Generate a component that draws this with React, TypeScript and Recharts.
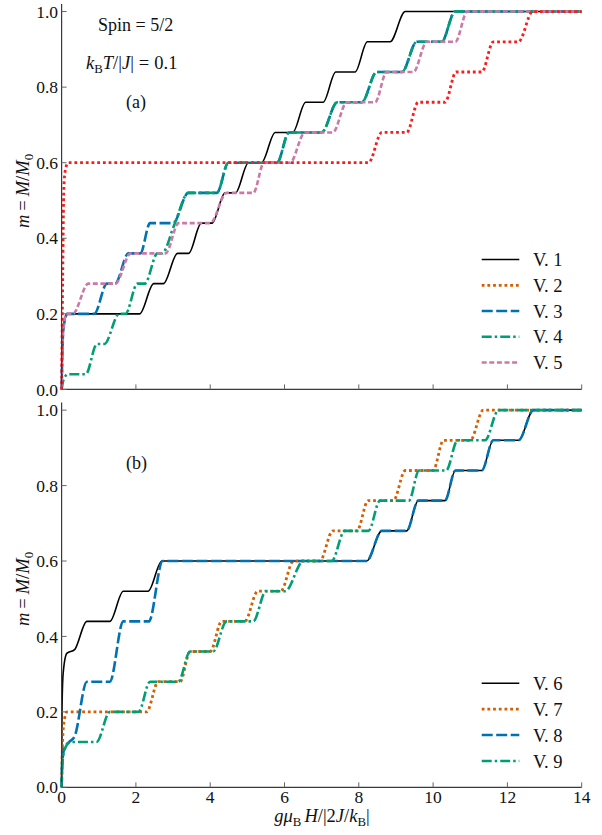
import React from "react";
import { LineChart, Line, XAxis, YAxis } from "recharts";

type Pt = [number, number];

const xTicks = [0, 2, 4, 6, 8, 10, 12, 14];
const xTickLabels = ["0", "2", "4", "6", "8", "10", "12", "14"];
const yTicks = [0, 0.2, 0.4, 0.6, 0.8, 1.0];
const yTickLabels = ["0.0", "0.2", "0.4", "0.6", "0.8", "1.0"];

// panel (a) as [field, m]
const v1: Pt[] = [[0, 0], [0.02, 0.1], [0.06, 0.17], [0.16, 0.2], [2.1, 0.2], [2.48, 0.28], [2.74, 0.28], [3.12, 0.36], [3.42, 0.36], [3.76, 0.44], [4.05, 0.44], [4.4, 0.52], [4.68, 0.52], [5.03, 0.6], [5.38, 0.6], [5.75, 0.68], [6.22, 0.68], [6.57, 0.76], [7.04, 0.76], [7.38, 0.84], [7.9, 0.84], [8.23, 0.92], [8.84, 0.92], [9.25, 1], [14, 1]];
const v2: Pt[] = [[0, 0], [0.03, 0.3], [0.06, 0.53], [0.1, 0.58], [0.18, 0.6], [8.26, 0.6], [8.62, 0.68], [9.29, 0.68], [9.6, 0.76], [10.32, 0.76], [10.62, 0.84], [11.31, 0.84], [11.62, 0.92], [12.3, 0.92], [12.68, 1], [14, 1]];
const v3: Pt[] = [[0, 0], [0.02, 0.1], [0.06, 0.17], [0.16, 0.2], [0.88, 0.2], [1.22, 0.28], [1.44, 0.28], [1.8, 0.36], [2.12, 0.36], [2.38, 0.44], [3.0, 0.44], [3.41, 0.52], [4.18, 0.52], [4.49, 0.6], [5.8, 0.6], [6.12, 0.68], [7.0, 0.68], [7.42, 0.76], [8.08, 0.76], [8.48, 0.84], [9.16, 0.84], [9.56, 0.92], [10.23, 0.92], [10.59, 1], [14, 1]];
const v4: Pt[] = [[0, 0], [0.05, 0.025], [0.17, 0.04], [0.65, 0.04], [0.95, 0.12], [1.15, 0.12], [1.55, 0.2], [1.72, 0.2], [2.04, 0.28], [2.24, 0.28], [2.58, 0.36], [2.7, 0.36], [3.05, 0.44], [3.41, 0.52], [4.18, 0.52], [4.49, 0.6], [5.8, 0.6], [6.12, 0.68], [7.0, 0.68], [7.42, 0.76], [8.08, 0.76], [8.48, 0.84], [9.16, 0.84], [9.56, 0.92], [10.23, 0.92], [10.59, 1], [14, 1]];
const v5: Pt[] = [[0, 0], [0.02, 0.1], [0.06, 0.17], [0.13, 0.2], [0.3, 0.2], [0.72, 0.28], [1.45, 0.28], [1.86, 0.36], [2.8, 0.36], [3.15, 0.44], [4.0, 0.44], [4.44, 0.52], [5.16, 0.52], [5.45, 0.6], [6.15, 0.6], [6.55, 0.68], [7.3, 0.68], [7.68, 0.76], [8.44, 0.76], [8.75, 0.84], [9.47, 0.84], [9.83, 0.92], [10.6, 0.92], [10.92, 1], [14, 1]];

// panel (b)
const v6: Pt[] = [[0, 0], [0.01, 0.2], [0.04, 0.3], [0.14, 0.355], [0.35, 0.365], [0.68, 0.44], [1.3, 0.44], [1.66, 0.52], [2.33, 0.52], [2.7, 0.6], [8.21, 0.6], [8.62, 0.68], [9.29, 0.68], [9.6, 0.76], [10.32, 0.76], [10.6, 0.84], [11.31, 0.84], [11.62, 0.92], [12.3, 0.92], [12.7, 1], [14, 1]];
const v7: Pt[] = [[0, 0], [0.02, 0.1], [0.06, 0.17], [0.15, 0.2], [2.29, 0.2], [2.6, 0.28], [3.19, 0.28], [3.46, 0.36], [4.0, 0.36], [4.31, 0.44], [4.93, 0.44], [5.28, 0.52], [5.9, 0.52], [6.24, 0.6], [6.95, 0.6], [7.3, 0.68], [7.95, 0.68], [8.25, 0.76], [8.93, 0.76], [9.25, 0.84], [10.0, 0.84], [10.28, 0.92], [11.0, 0.92], [11.35, 1], [14, 1]];
const v8: Pt[] = [[0, 0], [0.02, 0.07], [0.08, 0.105], [0.2, 0.12], [0.35, 0.135], [0.68, 0.28], [1.3, 0.28], [1.66, 0.44], [2.35, 0.44], [2.72, 0.6], [8.21, 0.6], [8.62, 0.68], [9.29, 0.68], [9.6, 0.76], [10.32, 0.76], [10.6, 0.84], [11.31, 0.84], [11.62, 0.92], [12.3, 0.92], [12.7, 1], [14, 1]];
const v9: Pt[] = [[0, 0], [0.02, 0.06], [0.08, 0.1], [0.23, 0.12], [0.94, 0.12], [1.3, 0.2], [2.07, 0.2], [2.38, 0.28], [3.14, 0.28], [3.46, 0.36], [4.08, 0.36], [4.44, 0.44], [5.16, 0.44], [5.5, 0.52], [6.02, 0.52], [6.51, 0.6], [7.27, 0.6], [7.62, 0.68], [8.26, 0.68], [8.57, 0.76], [9.35, 0.76], [9.62, 0.84], [10.35, 0.84], [10.66, 0.92], [11.4, 0.92], [11.76, 1], [14, 1]];

const legendA = ["V. 1", "V. 2", "V. 3", "V. 4", "V. 5"];
const legendB = ["V. 6", "V. 7", "V. 8", "V. 9"];

const FONT = "'Liberation Serif', 'DejaVu Serif', serif";
const TXT = { fontFamily: FONT };
const FRAME = "#3a3a3a";
const TICK_COLOR = "#666";
const TICK_LEN = 5;

const BLACK = "#000000";
const RED = "#ff1a1a";
const ORANGE = "#d55e00";
const BLUE = "#0072b2";
const GREEN = "#009e73";
const PINK = "#cc79a7";

type Style = { stroke: string; width: number; dash?: string };
const solid: Style = { stroke: BLACK, width: 1.6 };
const dotted = (c: string): Style => ({ stroke: c, width: 2.8, dash: "2.8 2.9" });
const dashed: Style = { stroke: BLUE, width: 2.6, dash: "11 3.5" };
const dashDot: Style = { stroke: GREEN, width: 2.6, dash: "10 3 2.5 3" };
const shortDash: Style = { stroke: PINK, width: 2.6, dash: "5 2.6" };

const rows = (pts: Pt[]) => pts.map(([x, y]) => ({ x, y }));

function LeftTick(props: any) {
  const { x, y, index } = props;
  return (
    <g>
      <line x1={x} x2={x + TICK_LEN} y1={y} y2={y} stroke={TICK_COLOR} strokeWidth={1} />
      <text x={x - 3.5} y={y} dy="0.35em" textAnchor="end" style={TXT} fontSize={17.5} fill="#111">
        {yTickLabels[index]}
      </text>
    </g>
  );
}

function RightTick(props: any) {
  const { x, y } = props;
  return <line x1={x} x2={x - TICK_LEN} y1={y} y2={y} stroke={TICK_COLOR} strokeWidth={1} />;
}

function TopTick(props: any) {
  const { x, y } = props;
  return <line x1={x} x2={x} y1={y} y2={y + TICK_LEN} stroke={TICK_COLOR} strokeWidth={1} />;
}

function BottomTick(props: any) {
  const { x, y, index, showLabel } = props;
  return (
    <g>
      <line x1={x} x2={x} y1={y} y2={y - TICK_LEN} stroke={TICK_COLOR} strokeWidth={1} />
      {showLabel && (
        <text x={x} y={y + 15.4} textAnchor="middle" style={TXT} fontSize={17.5} fill="#111">
          {xTickLabels[index]}
        </text>
      )}
    </g>
  );
}

function Panel({
  series,
  height,
  marginTop,
  bottomAxisHeight,
  showLabels,
}: {
  series: { data: Pt[]; style: Style }[];
  height: number;
  marginTop: number;
  bottomAxisHeight: number;
  showLabels: boolean;
}) {
  const axisLine = { stroke: FRAME, strokeWidth: 1.2 };
  return (
    <LineChart width={602} height={height} margin={{ top: marginTop, right: 20.3, bottom: 0, left: 0 }}>
      <XAxis
        dataKey="x"
        type="number"
        domain={[0, 14]}
        ticks={xTicks}
        interval={0}
        height={bottomAxisHeight}
        tickSize={0}
        tickMargin={0}
        tickLine={false}
        axisLine={axisLine}
        tick={(p: any) => <BottomTick {...p} showLabel={showLabels} />}
      />
      <XAxis
        xAxisId="top"
        orientation="top"
        dataKey="x"
        type="number"
        domain={[0, 14]}
        ticks={xTicks}
        interval={0}
        height={0}
        tickSize={0}
        tickMargin={0}
        tickLine={false}
        axisLine={axisLine}
        tick={(p: any) => <TopTick {...p} />}
      />
      <YAxis
        type="number"
        domain={[0, 1.02]}
        ticks={yTicks}
        interval={0}
        width={61.6}
        tickSize={0}
        tickMargin={0}
        tickLine={false}
        axisLine={axisLine}
        tick={(p: any) => <LeftTick {...p} />}
      />
      <YAxis
        yAxisId="r"
        orientation="right"
        type="number"
        domain={[0, 1.02]}
        ticks={yTicks}
        interval={0}
        width={0}
        tickSize={0}
        tickMargin={0}
        tickLine={false}
        axisLine={axisLine}
        tick={(p: any) => <RightTick {...p} />}
      />
      {series.map((s, i) => (
        <Line
          key={i}
          data={rows(s.data)}
          dataKey="y"
          type="monotone"
          stroke={s.style.stroke}
          strokeWidth={s.style.width}
          strokeDasharray={s.style.dash}
          dot={false}
          activeDot={false}
          isAnimationActive={false}
        />
      ))}
    </LineChart>
  );
}

function LegendRows({ names, styles, ys }: { names: string[]; styles: Style[]; ys: number[] }) {
  return (
    <g>
      {names.map((n, i) => (
        <g key={n}>
          <line
            x1={481.7}
            x2={519.3}
            y1={ys[i]}
            y2={ys[i]}
            stroke={styles[i].stroke}
            strokeWidth={styles[i].width}
            strokeDasharray={styles[i].dash}
          />
          <text x={533} y={ys[i]} dy="0.36em" style={TXT} fontSize={18.5} fill="#111">
            {n}
          </text>
        </g>
      ))}
    </g>
  );
}

function YLabel({ cy }: { cy: number }) {
  return (
    <text transform={`translate(28.5,${cy}) rotate(-90)`} textAnchor="middle" style={TXT} fontSize={18.5} fill="#111">
      <tspan fontStyle="italic">m</tspan>
      <tspan dx={4}>=</tspan>
      <tspan dx={4} fontStyle="italic">M</tspan>
      <tspan>/</tspan>
      <tspan fontStyle="italic">M</tspan>
      <tspan fontSize={12.8} dy={4}>0</tspan>
    </text>
  );
}

export default function App() {
  const seriesA = [
    { data: v1, style: solid },
    { data: v3, style: dashed },
    { data: v4, style: dashDot },
    { data: v5, style: shortDash },
    { data: v2, style: dotted(RED) },
  ];
  const seriesB = [
    { data: v6, style: solid },
    { data: v7, style: dotted(ORANGE) },
    { data: v8, style: dashed },
    { data: v9, style: dashDot },
  ];
  const legendStylesA = [solid, dotted(ORANGE), dashed, dashDot, shortDash];
  const legendStylesB = [solid, dotted(ORANGE), dashed, dashDot];

  return (
    <div style={{ position: "absolute", left: 0, top: 0, width: 602, height: 835, background: "#fff", fontFamily: FONT }}>
      <div style={{ position: "absolute", left: 0, top: 0 }}>
        <Panel series={seriesA} height={400} marginTop={4} bottomAxisHeight={10.6} showLabels={false} />
      </div>
      <div style={{ position: "absolute", left: 0, top: 398 }}>
        <Panel series={seriesB} height={437} marginTop={4.6} bottomAxisHeight={47.7} showLabels={true} />
      </div>
      <svg width={602} height={835} style={{ position: "absolute", left: 0, top: 0, pointerEvents: "none" }}>
        <text x={98} y={31} style={TXT} fontSize={18} fill="#111">
          Spin = 5/2
        </text>
        <text x={86} y={69} style={TXT} fontSize={18.5} fill="#111">
          <tspan fontStyle="italic">k</tspan>
          <tspan fontSize={12.8} dy={4}>B</tspan>
          <tspan dy={-4} fontStyle="italic">T</tspan>
          <tspan>/|</tspan>
          <tspan fontStyle="italic">J</tspan>
          <tspan>|</tspan>
          <tspan dx={5}>=</tspan>
          <tspan dx={5}>0.1</tspan>
        </text>
        <text x={126} y={108} style={TXT} fontSize={18} fill="#111">
          (a)
        </text>
        <text x={126} y={469} style={TXT} fontSize={18} fill="#111">
          (b)
        </text>
        <YLabel cy={191} />
        <YLabel cy={589} />
        <text x={322} y={822} textAnchor="middle" style={TXT} fontSize={18.5} fill="#111">
          <tspan fontStyle="italic">gμ</tspan>
          <tspan fontSize={12.8} dy={4}>B</tspan>
          <tspan dy={-4} dx={3} fontStyle="italic">H</tspan>
          <tspan>/|2</tspan>
          <tspan fontStyle="italic">J</tspan>
          <tspan>/</tspan>
          <tspan fontStyle="italic">k</tspan>
          <tspan fontSize={12.8} dy={4}>B</tspan>
          <tspan dy={-4}>|</tspan>
        </text>
        <LegendRows names={legendA} styles={legendStylesA} ys={[259.5, 285.3, 311, 336.8, 362.5]} />
        <LegendRows names={legendB} styles={legendStylesB} ys={[683.3, 709.2, 735, 761]} />
      </svg>
    </div>
  );
}
